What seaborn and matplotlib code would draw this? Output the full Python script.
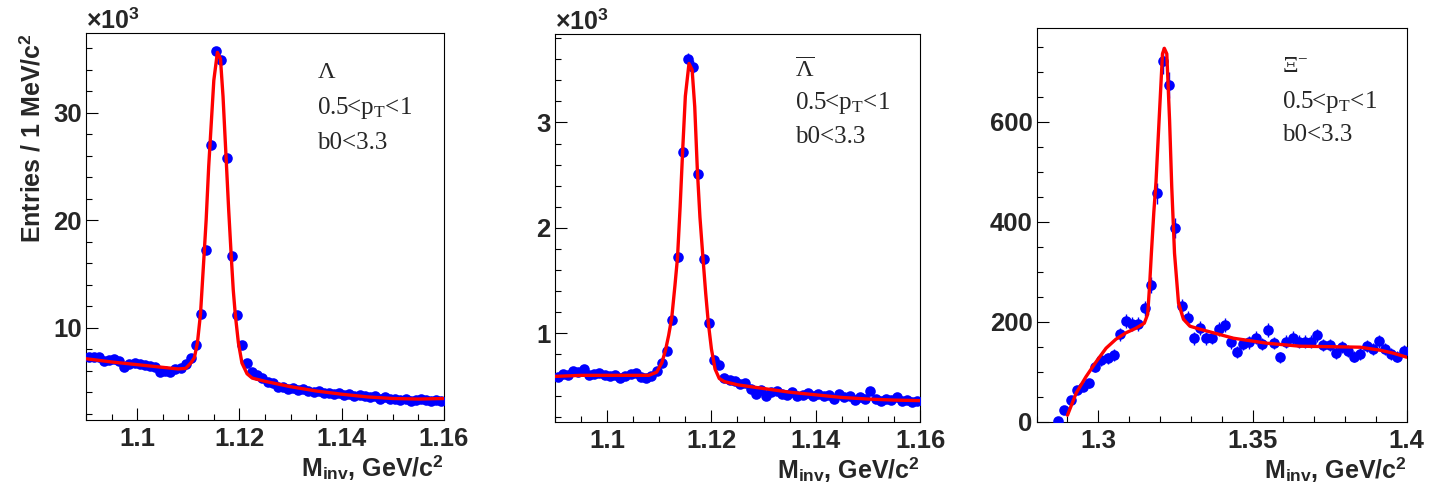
import numpy as np
import matplotlib
matplotlib.use("Agg")
import matplotlib.pyplot as plt
from matplotlib.ticker import MultipleLocator, FuncFormatter
import seaborn as sns

# ---- Lambda: 1 MeV bins from 1.090, counts in units of 10^3 ----
lam_m0, lam_dm = 1.0905, 0.001
lam_counts = [7.3, 7.3, 7.3, 6.9, 7.0, 7.1, 6.9, 6.3, 6.6, 6.7,
              6.6, 6.5, 6.4, 6.3, 5.9, 6.0, 5.9, 6.1, 6.2, 6.6,
              7.2, 8.4, 11.3, 17.2, 27.0, 35.7, 34.9, 25.8, 16.7, 11.2,
              8.4, 6.7, 5.9, 5.6, 5.3, 4.9, 4.8, 4.5, 4.5, 4.3,
              4.4, 4.2, 4.3, 4.1, 4.0, 4.1, 3.9, 3.9, 3.8, 3.9,
              3.7, 3.8, 3.6, 3.7, 3.6, 3.5, 3.6, 3.4, 3.5, 3.4,
              3.4, 3.3, 3.4, 3.2, 3.3, 3.4, 3.3, 3.2, 3.3, 3.2]
lam_fit_m = [1.0900, 1.0950, 1.1000, 1.1050, 1.1080, 1.1095, 1.1105, 1.1112,
             1.1118, 1.1124, 1.1130, 1.1135, 1.1140, 1.1145, 1.1150, 1.1157,
             1.1163, 1.1168, 1.1174, 1.1179, 1.1184, 1.1188, 1.1192, 1.1198,
             1.1205, 1.1215, 1.1225, 1.1250, 1.1300, 1.1350, 1.1400, 1.1450,
             1.1500, 1.1550, 1.1600]
lam_fit_y = [7.1, 6.8, 6.55, 6.3, 6.15, 6.2, 6.7, 7.2,
             8.6, 11.3, 16.0, 20.0, 25.0, 29.0, 33.0, 35.6,
             35.0, 31.5, 25.8, 21.0, 16.7, 13.5, 11.2, 8.6,
             6.7, 5.7, 5.3, 5.0, 4.5, 4.1, 3.8, 3.55,
             3.4, 3.35, 3.4]

# ---- anti-Lambda: 1 MeV bins from 1.090, counts in units of 10^3 ----
alam_m0, alam_dm = 1.0905, 0.001
alam_counts = [0.58, 0.61, 0.60, 0.64, 0.63, 0.66, 0.60, 0.61, 0.62, 0.60,
               0.59, 0.60, 0.57, 0.59, 0.61, 0.62, 0.58, 0.57, 0.59, 0.64,
               0.715, 0.83, 1.13, 1.72, 2.72, 3.60, 3.53, 2.51, 1.70, 1.10,
               0.75, 0.70, 0.57, 0.56, 0.55, 0.52, 0.53, 0.47, 0.42, 0.46,
               0.40, 0.44, 0.45, 0.42, 0.41, 0.44, 0.40, 0.41, 0.43, 0.40,
               0.42, 0.40, 0.41, 0.38, 0.42, 0.39, 0.40, 0.37, 0.39, 0.38,
               0.45, 0.38, 0.36, 0.38, 0.37, 0.39, 0.36, 0.37, 0.35, 0.36]
alam_fit_m = [1.0900, 1.0950, 1.1000, 1.1050, 1.1080, 1.1095, 1.1105, 1.1112,
              1.1118, 1.1124, 1.1130, 1.1135, 1.1140, 1.1145, 1.1150, 1.1157,
              1.1163, 1.1168, 1.1173, 1.1178, 1.1184, 1.1189, 1.1194, 1.1200,
              1.1207, 1.1215, 1.1225, 1.1250, 1.1300, 1.1350, 1.1400, 1.1450,
              1.1500, 1.1550, 1.1600]
alam_fit_y = [0.59, 0.60, 0.60, 0.60, 0.60, 0.63, 0.72, 0.84,
              0.98, 1.15, 1.45, 1.72, 2.20, 2.75, 3.25, 3.56,
              3.50, 3.15, 2.55, 2.10, 1.70, 1.38, 1.10, 0.85,
              0.66, 0.57, 0.54, 0.51, 0.475, 0.44, 0.415, 0.39,
              0.375, 0.365, 0.36]

# ---- Xi-: 2 MeV bins from 1.286, raw counts ----
xi_m0, xi_dm = 1.287, 0.002
xi_counts = [2, 23, 43, 63, 70, 77, 109, 123, 127, 133,
             175, 201, 195, 196, 227, 273, 457, 722, 673, 387,
             231, 208, 167, 187, 167, 168, 185, 193, 159, 139,
             155, 159, 168, 155, 183, 157, 129, 160, 168, 160,
             160, 160, 173, 154, 154, 138, 150, 141, 130, 135,
             152, 145, 161, 145, 135, 130, 141]
xi_fit_m = [1.2900, 1.2928, 1.2960, 1.2993, 1.3025, 1.3057, 1.3090, 1.3122,
            1.3149, 1.3160, 1.3166, 1.3172, 1.3180, 1.3187, 1.3197, 1.3208,
            1.3214, 1.3222, 1.3231, 1.3238, 1.3247, 1.3260, 1.3276, 1.3297,
            1.3330, 1.3438, 1.3546, 1.3654, 1.3762, 1.3849, 1.3914, 1.3957,
            1.4000]
xi_fit_y = [13, 57, 90, 120, 147, 165, 178, 187,
            197, 215, 270, 337, 420, 480, 603, 736,
            747, 736, 603, 470, 337, 237, 205, 191,
            185, 167, 157, 151, 150, 149, 143, 137,
            129]

panel_names = [r"$\Lambda$", r"$\overline{\Lambda}$", r"$\Xi^{-}$"]
pt_label = r"0.5<p$_{\mathrm{T}}$<1"
b_label = "b0<3.3"
x_label = r"M$_{\mathbf{inv}}$, GeV/c$^{\mathbf{2}}$"
y_label = r"Entries / 1 MeV/c$^{\mathbf{2}}$"

sns.set_style("ticks")
plt.rcParams.update({
    "font.family": ["Liberation Sans", "DejaVu Sans"],
    "font.weight": "bold",
    "mathtext.fontset": "custom",
    "mathtext.rm": "Liberation Serif:weight=normal",
    "mathtext.it": "Liberation Serif:italic:weight=normal",
    "mathtext.bf": "Liberation Sans:bold",
    "axes.linewidth": 0.8,
    "axes.edgecolor": "black",
    "xtick.direction": "in",
    "ytick.direction": "in",
})

fig = plt.figure(figsize=(14.4, 4.95), dpi=100, facecolor="white")
boxes = [[0.0597, 0.1515, 0.2486, 0.7818],
         [0.3854, 0.1481, 0.2535, 0.7832],
         [0.7199, 0.1481, 0.2570, 0.7947]]

panels = [
    dict(m0=lam_m0, dm=lam_dm, y=lam_counts, scale=1000.0, fm=lam_fit_m, fy=lam_fit_y,
         xlim=(1.09, 1.16), ylim=(1.4, 37.4), xt=[1.1, 1.12, 1.14, 1.16], xmin=0.005,
         yt=[10, 20, 30], ymin=2, txt=(0.645, 0.899, 0.806, 0.716), mult=True),
    dict(m0=alam_m0, dm=alam_dm, y=alam_counts, scale=1000.0, fm=alam_fit_m, fy=alam_fit_y,
         xlim=(1.09, 1.16), ylim=(0.16, 3.84), xt=[1.1, 1.12, 1.14, 1.16], xmin=0.005,
         yt=[1, 2, 3], ymin=0.2, txt=(0.657, 0.905, 0.822, 0.734), mult=True),
    dict(m0=xi_m0, dm=xi_dm, y=xi_counts, scale=1.0, fm=xi_fit_m, fy=xi_fit_y,
         xlim=(1.28, 1.40), ylim=(0, 787), xt=[1.3, 1.35, 1.4], xmin=0.01,
         yt=[0, 200, 400, 600], ymin=50, txt=(0.663, 0.902, 0.813, 0.729), mult=False),
]

blue = "#0000ff"
for k, (p, box) in enumerate(zip(panels, boxes)):
    ax = fig.add_axes(box)
    y = np.array(p["y"], dtype=float)
    m = p["m0"] + p["dm"] * np.arange(len(y))
    err = np.sqrt(y * p["scale"]) / p["scale"]

    ax.errorbar(m, y, yerr=err, xerr=p["dm"] / 2, fmt="none", ecolor=blue,
                elinewidth=1.0, capsize=0, zorder=2)
    sns.scatterplot(x=m, y=y, ax=ax, color=blue, s=58, linewidth=0,
                    legend=False, zorder=3)
    sns.lineplot(x=p["fm"], y=p["fy"], ax=ax, color="red", linewidth=2.4,
                 sort=False, estimator=None, zorder=4)

    ax.set_xlim(*p["xlim"])
    ax.set_ylim(*p["ylim"])
    ax.set_xticks(p["xt"])
    ax.set_yticks(p["yt"])
    ax.xaxis.set_minor_locator(MultipleLocator(p["xmin"]))
    ax.yaxis.set_minor_locator(MultipleLocator(p["ymin"]))
    fmt = FuncFormatter(lambda v, pos: f"{v:g}")
    ax.xaxis.set_major_formatter(fmt)
    ax.yaxis.set_major_formatter(fmt)
    ax.tick_params(which="both", top=False, right=False, width=0.8, color="black")
    ax.tick_params(which="major", length=8.3, labelsize=18.5)
    ax.tick_params(which="minor", length=4.3)
    ax.tick_params(axis="x", which="major", pad=5)
    ax.tick_params(axis="y", which="major", pad=3)
    for lab in ax.get_xticklabels() + ax.get_yticklabels():
        lab.set_fontweight("bold")
    for s in ax.spines.values():
        s.set_visible(True)

    ax.set_xlabel(x_label, fontsize=18, fontweight="bold", ha="right", va="top")
    ax.xaxis.set_label_coords(1.0, -0.085)
    if k == 0:
        ax.set_ylabel(y_label, fontsize=18, fontweight="bold", ha="right")
        ax.yaxis.set_label_coords(-0.115, 1.0)
    else:
        ax.set_ylabel("")

    tx, t1, t2, t3 = p["txt"]
    ax.text(tx, t1, panel_names[k], transform=ax.transAxes, fontsize=17.5,
            fontweight="normal", family="Liberation Serif", va="center")
    ax.text(tx, t2, pt_label, transform=ax.transAxes, fontsize=18,
            fontweight="normal", family="Liberation Serif", va="center")
    ax.text(tx, t3, b_label, transform=ax.transAxes, fontsize=18,
            fontweight="normal", family="Liberation Serif", va="center")
    if p["mult"]:
        ax.text(0.0, 1.013, r"×10$^{\mathbf{3}}$", transform=ax.transAxes,
                fontsize=18, fontweight="bold", ha="left", va="baseline")

fig.savefig("out.png", dpi=100, facecolor="white")
